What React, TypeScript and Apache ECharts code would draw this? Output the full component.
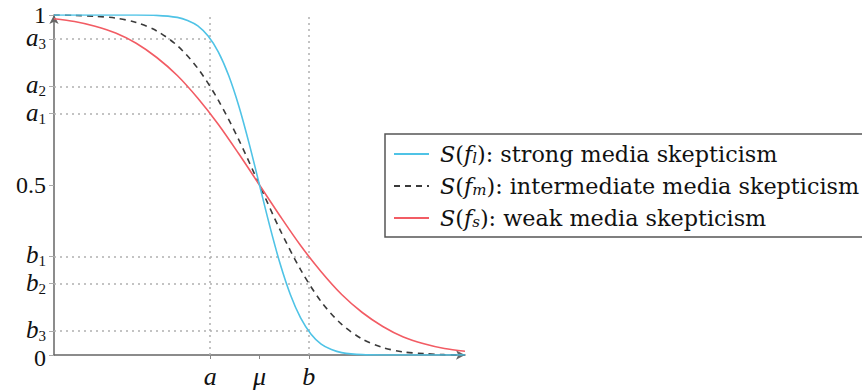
import React, { useEffect, useRef } from "react";
import * as echarts from "echarts";

// x positions (fraction of the horizontal axis)
const X_A = 0.38;
const X_MU = 0.5;
const X_B = 0.62;

const xTickValues = [X_A, X_MU, X_B];
const xTickLabels = ["a", "μ", "b"];

const yTickValues = [0, 0.07, 0.21, 0.29, 0.5, 0.71, 0.79, 0.93, 1];
const yTickLabels = ["0", "b_3", "b_2", "b_1", "0.5", "a_1", "a_2", "a_3", "1"];
// ticks drawn on a second (overlaid) axis so they are not hidden next to 0 and 1
const yTickValuesInner = [0.07, 0.93];

const A_LEVELS = [0.71, 0.79, 0.93];
const B_LEVELS = [0.29, 0.21, 0.07];

// strong media skepticism
const strongX = [0, 0.05, 0.1, 0.15, 0.2, 0.25, 0.3, 0.325, 0.35, 0.375, 0.4, 0.425, 0.45, 0.475, 0.5, 0.525, 0.55, 0.575, 0.6, 0.625, 0.65, 0.675, 0.7, 0.75, 0.8, 0.85, 0.9, 0.95, 1.0];
const strongY = [1, 1, 1, 1, 1, 0.999, 0.993, 0.984, 0.968, 0.938, 0.891, 0.822, 0.731, 0.621, 0.5, 0.379, 0.269, 0.178, 0.109, 0.062, 0.032, 0.016, 0.007, 0.001, 0, 0, 0, 0, 0];

// intermediate media skepticism
const midX = [0, 0.05, 0.1, 0.15, 0.2, 0.25, 0.3, 0.35, 0.4, 0.45, 0.5, 0.55, 0.6, 0.65, 0.7, 0.75, 0.8, 0.85, 0.9, 0.95, 1.0];
const midY = [1.0, 0.999, 0.996, 0.991, 0.978, 0.953, 0.91, 0.843, 0.749, 0.632, 0.5, 0.368, 0.251, 0.157, 0.09, 0.047, 0.022, 0.009, 0.004, 0.001, 0.0];

// weak media skepticism
const weakX = [0, 0.05, 0.1, 0.15, 0.2, 0.25, 0.3, 0.35, 0.4, 0.45, 0.5, 0.55, 0.6, 0.65, 0.7, 0.75, 0.8, 0.85, 0.9, 0.95, 1.0];
const weakY = [0.989, 0.981, 0.967, 0.947, 0.917, 0.875, 0.822, 0.755, 0.678, 0.591, 0.5, 0.409, 0.322, 0.245, 0.178, 0.125, 0.084, 0.053, 0.033, 0.019, 0.011];

const seriesNames = ["strong", "intermediate", "weak"];
const legendLabels: Record<string, string> = {
  strong: "{i0|S}({i|f}{s|l}): strong media skepticism",
  intermediate: "{i0|S}({i|f}{s|m}): intermediate media skepticism",
  weak: "{i0|S}({i|f}{s|s}): weak media skepticism",
};

const FONT = "'Liberation Serif', 'DejaVu Serif', serif";
const LFONT = "'DejaVu Serif', 'Liberation Serif', serif";
const BLUE = "#4fc3e6";
const RED = "#f25c64";
const DARK = "#3a3a3a";
const GRIDC = "#b0b0b0";

function zip(xs: number[], ys: number[]) {
  return xs.map((x, i) => [x, ys[i]]);
}

function tickLabel(v: number, values: number[], labels: string[]) {
  let best = 0;
  for (let i = 1; i < values.length; i++) {
    if (Math.abs(values[i] - v) < Math.abs(values[best] - v)) best = i;
  }
  const l = labels[best];
  if (l.includes("_")) {
    const [b, s] = l.split("_");
    return `{i|${b}}{s|${s}}`;
  }
  if (/^[a-zμ]$/.test(l)) return `{i|${l}}`;
  if (l === "0") return `{z|${l}}`;
  return `{n|${l}}`;
}

export default function App() {
  const ref = useRef<HTMLDivElement>(null);
  useEffect(() => {
    if (!ref.current) return;
    const chart = echarts.init(ref.current, null, { renderer: "svg" });
    const labelRich = {
      n: { fontSize: 24, fontFamily: FONT, color: "#111", lineHeight: 14 },
      z: { fontSize: 24, fontFamily: FONT, color: "#111", lineHeight: 14, padding: [5, 0, 0, 0] },
      i: { fontSize: 25, fontFamily: FONT, fontStyle: "italic", color: "#111", lineHeight: 25, padding: [0, 0, 3, 0] },
      s: { fontSize: 15, fontFamily: FONT, color: "#111", verticalAlign: "bottom", lineHeight: 20 },
    };
    const xRich = {
      ...labelRich,
      i: { fontSize: 26, fontFamily: FONT, fontStyle: "italic", color: "#111", lineHeight: 26 },
    };
    const yMain = yTickValues.filter((v) => !yTickValuesInner.includes(v));
    const hLines = [
      ...A_LEVELS.map((v) => [{ coord: [0, v] }, { coord: [X_A, v] }]),
      ...B_LEVELS.map((v) => [{ coord: [0, v] }, { coord: [X_B, v] }]),
      [{ coord: [X_A, 0] }, { coord: [X_A, 1] }],
      [{ coord: [X_B, 0] }, { coord: [X_B, 1] }],
    ];
    const yBase = {
      type: "value",
      min: 0,
      max: 1,
      position: "left",
      splitLine: { show: false },
    };
    chart.setOption({
      animation: false,
      grid: { left: 54, right: 397, top: 15, bottom: 36, containLabel: false },
      legend: {
        orient: "vertical",
        left: 385,
        top: 134,
        data: seriesNames,
        itemWidth: 35,
        itemHeight: 14,
        itemGap: 10,
        padding: [9, 40, 8, 8],
        borderColor: "#555",
        borderWidth: 1.5,
        backgroundColor: "#fff",
        selectedMode: false,
        itemStyle: { opacity: 0 },
        formatter: (name: string) => legendLabels[name],
        textStyle: {
          fontFamily: LFONT,
          fontSize: 22.3,
          color: "#111",
          lineHeight: 22,
          rich: {
            i0: { fontFamily: LFONT, fontSize: 22.3, fontStyle: "italic", color: "#111", padding: [0, 0, 0, 6] },
            i: { fontFamily: LFONT, fontSize: 22.3, fontStyle: "italic", color: "#111" },
            s: { fontFamily: LFONT, fontSize: 15, fontStyle: "italic", color: "#111", verticalAlign: "bottom", lineHeight: 14 },
          },
        },
      },
      xAxis: {
        type: "value",
        min: 0,
        max: 1,
        splitLine: { show: false },
        axisLine: {
          show: true,
          lineStyle: { color: "#666", width: 1.5 },
          symbol: ["none", "arrow"],
          symbolSize: [7, 9],
        },
        axisTick: { show: true, customValues: xTickValues, length: 4, lineStyle: { color: "#888" } },
        axisLabel: {
          customValues: xTickValues,
          margin: 8,
          formatter: (v: number) => tickLabel(v, xTickValues, xTickLabels),
          rich: xRich,
        },
      },
      yAxis: [
        {
          ...yBase,
          axisLine: {
            show: true,
            lineStyle: { color: "#666", width: 1.5 },
            symbol: ["none", "arrow"],
            symbolSize: [7, 9],
          },
          axisTick: { show: true, customValues: yMain, length: 5, lineStyle: { color: "#aaa" } },
          axisLabel: {
            customValues: yMain,
            showMinLabel: true,
            showMaxLabel: true,
            margin: 8,
            formatter: (v: number) => tickLabel(v, yTickValues, yTickLabels),
            rich: labelRich,
          },
        },
        {
          ...yBase,
          axisLine: { show: false },
          axisTick: { show: true, customValues: yTickValuesInner, length: 5, lineStyle: { color: "#aaa" } },
          axisLabel: {
            customValues: yTickValuesInner,
            showMinLabel: true,
            showMaxLabel: true,
            margin: 8,
            formatter: (v: number) => tickLabel(v, yTickValues, yTickLabels),
            rich: labelRich,
          },
        },
      ],
      series: [
        {
          name: "strong",
          type: "line",
          data: zip(strongX, strongY),
          showSymbol: false,
          symbol: "none",
          smooth: 0.3,
          lineStyle: { color: BLUE, width: 1.6 },
          itemStyle: { color: BLUE },
          z: 4,
          markLine: {
            silent: true,
            symbol: "none",
            label: { show: false },
            lineStyle: { type: [2, 4], color: GRIDC, width: 1.5 },
            data: hLines,
            z: 1,
          },
        },
        {
          name: "intermediate",
          type: "line",
          data: zip(midX, midY),
          showSymbol: false,
          symbol: "none",
          smooth: 0.3,
          lineStyle: { color: DARK, width: 1.6, type: [6, 5] },
          itemStyle: { color: DARK },
          z: 3,
        },
        {
          name: "weak",
          type: "line",
          data: zip(weakX, weakY),
          showSymbol: false,
          symbol: "none",
          smooth: 0.3,
          lineStyle: { color: RED, width: 1.6 },
          itemStyle: { color: RED },
          z: 3,
        },
      ],
    });
    return () => chart.dispose();
  }, []);
  return (
    <div
      ref={ref}
      style={{ position: "absolute", left: 0, top: 0, width: 862, height: 391 }}
    />
  );
}
